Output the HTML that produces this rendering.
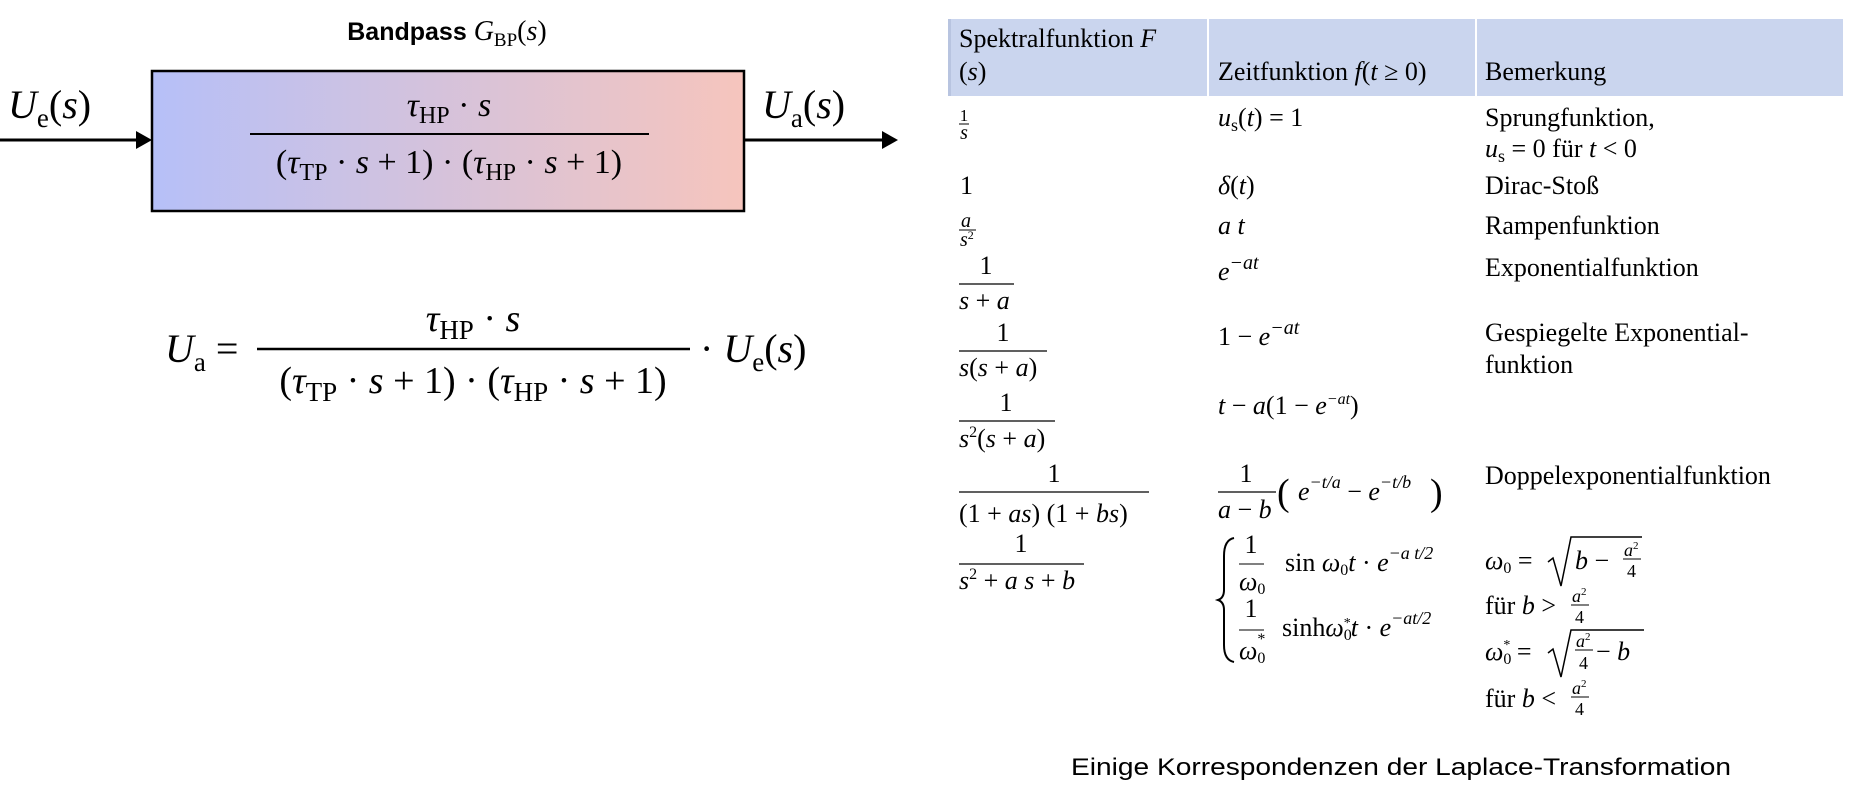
<!DOCTYPE html>
<html><head><meta charset="utf-8"><style>
html,body{margin:0;padding:0;background:#fff}
svg{display:block}
text{font-family:"Liberation Serif",serif;fill:#000}
.i{font-style:italic}
.s{font-family:"Liberation Sans",sans-serif}
</style></head><body>
<svg width="1856" height="788" viewBox="0 0 1856 788" xmlns="http://www.w3.org/2000/svg">
<defs>
<linearGradient id="g" x1="0" x2="1" y1="0" y2="0">
<stop offset="0" stop-color="#b6c0f8"/><stop offset="1" stop-color="#f6c5bd"/>
</linearGradient>
</defs>
<text x="447" y="40" text-anchor="middle" font-size="25"><tspan class="s" font-weight="bold">Bandpass </tspan><tspan class="i" font-size="28">G</tspan><tspan font-size="19" dy="6">BP</tspan><tspan font-size="28" dy="-6">(</tspan><tspan class="i" font-size="28">s</tspan><tspan font-size="28">)</tspan></text>
<rect x="152" y="71" width="592" height="140" fill="url(#g)" stroke="#000" stroke-width="2.5"/>
<line x1="0" y1="140" x2="138" y2="140" stroke="#000" stroke-width="3"/>
<polygon points="136,131 152,140 136,149" fill="#000"/>
<line x1="744" y1="140" x2="884" y2="140" stroke="#000" stroke-width="3"/>
<polygon points="882,131 898,140 882,149" fill="#000"/>
<text x="8" y="118" font-size="40"><tspan class="i">U</tspan><tspan font-size="27" dy="9">e</tspan><tspan dy="-9">(</tspan><tspan class="i">s</tspan>)</text>
<text x="762" y="118" font-size="40"><tspan class="i">U</tspan><tspan font-size="27" dy="9">a</tspan><tspan dy="-9">(</tspan><tspan class="i">s</tspan>)</text>
<text x="449" y="116" text-anchor="middle" font-size="34"><tspan class="i">τ</tspan><tspan font-size="24" dy="7">HP</tspan><tspan dy="-7"> · </tspan><tspan class="i">s</tspan></text>
<line x1="250" y1="134" x2="649" y2="134" stroke="#000" stroke-width="2"/>
<text x="449" y="173" text-anchor="middle" font-size="34">(<tspan class="i">τ</tspan><tspan font-size="24" dy="7">TP</tspan><tspan dy="-7"> · </tspan><tspan class="i">s</tspan> + 1) · (<tspan class="i">τ</tspan><tspan font-size="24" dy="7">HP</tspan><tspan dy="-7"> · </tspan><tspan class="i">s</tspan> + 1)</text>
<text x="165" y="362" font-size="40"><tspan class="i">U</tspan><tspan font-size="27" dy="9">a</tspan><tspan dy="-9"> =</tspan></text>
<text x="473" y="331" text-anchor="middle" font-size="38"><tspan class="i">τ</tspan><tspan font-size="27" dy="8">HP</tspan><tspan dy="-8"> · </tspan><tspan class="i">s</tspan></text>
<line x1="257" y1="349" x2="690" y2="349" stroke="#000" stroke-width="2.5"/>
<text x="473" y="393" text-anchor="middle" font-size="38">(<tspan class="i">τ</tspan><tspan font-size="27" dy="8">TP</tspan><tspan dy="-8"> · </tspan><tspan class="i">s</tspan> + 1) · (<tspan class="i">τ</tspan><tspan font-size="27" dy="8">HP</tspan><tspan dy="-8"> · </tspan><tspan class="i">s</tspan> + 1)</text>
<text x="700" y="362" font-size="40">· <tspan class="i">U</tspan><tspan font-size="27" dy="9">e</tspan><tspan dy="-9">(</tspan><tspan class="i">s</tspan>)</text>

<rect x="948" y="19" width="895" height="77" fill="#cad5ee"/>
<rect x="948" y="19" width="3" height="77" fill="#b8c4e0"/>
<rect x="1207" y="19" width="2" height="77" fill="#fff"/>
<rect x="1475" y="19" width="2" height="77" fill="#fff"/>
<g font-size="26">
<text x="959" y="47">Spektralfunktion <tspan class="i">F</tspan></text>
<text x="959" y="80">(<tspan class="i">s</tspan>)</text>
<text x="1218" y="80">Zeitfunktion <tspan class="i">f</tspan>(<tspan class="i">t</tspan> ≥ 0)</text>
<text x="1485" y="80">Bemerkung</text>

<text x="964" y="121" font-size="17" text-anchor="middle">1</text>
<line x1="959" y1="124" x2="969" y2="124" stroke="#000" stroke-width="1"/>
<text x="964" y="139" font-size="20" text-anchor="middle" class="i">s</text>
<text x="1218" y="126"><tspan class="i">u</tspan><tspan font-size="18" dy="5">s</tspan><tspan dy="-5">(</tspan><tspan class="i">t</tspan>) = 1</text>
<text x="1485" y="126">Sprungfunktion,</text>
<text x="1485" y="157"><tspan class="i">u</tspan><tspan font-size="18" dy="5">s</tspan><tspan dy="-5"> = 0 für </tspan><tspan class="i">t</tspan> &lt; 0</text>
<text x="960" y="194">1</text>
<text x="1218" y="194"><tspan class="i">δ</tspan>(<tspan class="i">t</tspan>)</text>
<text x="1485" y="194">Dirac-Stoß</text>
<text x="961" y="227" font-size="20" class="i">a</text>
<line x1="959" y1="230" x2="976" y2="230" stroke="#000" stroke-width="1"/>
<text x="960" y="246" font-size="20"><tspan class="i">s</tspan><tspan font-size="12" dy="-7">2</tspan></text>
<text x="1218" y="234" class="i">a  t</text>
<text x="1485" y="234">Rampenfunktion</text>
<text x="986" y="274" text-anchor="middle">1</text>
<line x1="959" y1="284" x2="1014" y2="284" stroke="#000" stroke-width="1.2"/>
<text x="959" y="309"><tspan class="i">s</tspan> + <tspan class="i">a</tspan></text>
<text x="1218" y="280"><tspan class="i">e</tspan><tspan font-size="20" dy="-11" class="i">−at</tspan></text>
<text x="1485" y="276">Exponentialfunktion</text>
<text x="1003" y="341" text-anchor="middle">1</text>
<line x1="959" y1="351" x2="1047" y2="351" stroke="#000" stroke-width="1.2"/>
<text x="959" y="376"><tspan class="i">s</tspan>(<tspan class="i">s</tspan> + <tspan class="i">a</tspan>)</text>
<text x="1218" y="345">1 − <tspan class="i">e</tspan><tspan font-size="20" dy="-11" class="i">−at</tspan></text>
<text x="1485" y="341">Gespiegelte Exponential-</text>
<text x="1485" y="373">funktion</text>
<text x="1006" y="411" text-anchor="middle">1</text>
<line x1="959" y1="421" x2="1055" y2="421" stroke="#000" stroke-width="1.2"/>
<text x="959" y="447"><tspan class="i">s</tspan><tspan font-size="16" dy="-10">2</tspan><tspan dy="10">(</tspan><tspan class="i">s</tspan> + <tspan class="i">a</tspan>)</text>
<text x="1218" y="414"><tspan class="i">t</tspan> − <tspan class="i">a</tspan>(1 − <tspan class="i">e</tspan><tspan font-size="16" dy="-10" class="i">−at</tspan><tspan dy="10">)</tspan></text>
<text x="1054" y="482" text-anchor="middle">1</text>
<line x1="959" y1="492" x2="1149" y2="492" stroke="#000" stroke-width="1.2"/>
<text x="959" y="522">(1 + <tspan class="i">as</tspan>)  (1 + <tspan class="i">bs</tspan>)</text>
<text x="1246" y="482" text-anchor="middle">1</text>
<line x1="1218" y1="492" x2="1276" y2="492" stroke="#000" stroke-width="1.2"/>
<text x="1218" y="518"><tspan class="i">a</tspan> − <tspan class="i">b</tspan></text>
<text x="1277" y="505" font-size="38">(</text>
<text x="1298" y="500"><tspan class="i">e</tspan><tspan font-size="18" dy="-12" class="i">−t/a</tspan><tspan dy="12"> − </tspan><tspan class="i">e</tspan><tspan font-size="18" dy="-12" class="i">−t/b</tspan></text>
<text x="1430" y="505" font-size="38">)</text>
<text x="1485" y="484">Doppelexponentialfunktion</text>
<text x="1021" y="552" text-anchor="middle">1</text>
<line x1="959" y1="564" x2="1084" y2="564" stroke="#000" stroke-width="1.2"/>
<text x="959" y="589"><tspan class="i">s</tspan><tspan font-size="16" dy="-10">2</tspan><tspan dy="10"> + </tspan><tspan class="i">a s</tspan> + <tspan class="i">b</tspan></text>
<path d="M1234,538 Q1224,540 1224,556 L1224,590 Q1224,598 1218,600 Q1224,602 1224,610 L1224,645 Q1224,660 1234,662" fill="none" stroke="#000" stroke-width="2"/>
<text x="1251" y="553" text-anchor="middle">1</text>
<line x1="1239" y1="564" x2="1264" y2="564" stroke="#000" stroke-width="1"/>
<text x="1239" y="590"><tspan class="i">ω</tspan><tspan font-size="16" dy="4">0</tspan></text>
<text x="1285" y="571">sin <tspan class="i">ω</tspan><tspan font-size="16" dy="4">0</tspan><tspan dy="-4" class="i">t</tspan> · <tspan class="i">e</tspan><tspan font-size="18" dy="-12" class="i">−a t/2</tspan></text>
<text x="1251" y="617" text-anchor="middle">1</text>
<line x1="1239" y1="630" x2="1264" y2="630" stroke="#000" stroke-width="1"/>
<text x="1239" y="659"><tspan class="i">ω</tspan><tspan font-size="16" dy="4">0</tspan><tspan font-size="16" dx="-8" dy="-19">*</tspan></text>
<text x="1282" y="636">sinh<tspan class="i">ω</tspan><tspan font-size="16" dy="4">0</tspan><tspan font-size="14" dx="-8" dy="-13">*</tspan><tspan dy="9" class="i">t</tspan> · <tspan class="i">e</tspan><tspan font-size="18" dy="-12" class="i">−at/2</tspan></text>
<text x="1485" y="569"><tspan class="i">ω</tspan><tspan font-size="16" dy="4">0</tspan><tspan dy="-4"> = </tspan></text>
<path d="M1548,562 L1553,558 L1561,586 L1571,537 L1642,537" fill="none" stroke="#000" stroke-width="1.5"/>
<text x="1575" y="569"><tspan class="i">b</tspan> − </text>
<text x="1624" y="556" font-size="18"><tspan class="i">a</tspan><tspan font-size="11" dy="-7">2</tspan></text>
<line x1="1623" y1="559" x2="1641" y2="559" stroke="#000" stroke-width="1"/>
<text x="1627" y="577" font-size="18">4</text>
<text x="1485" y="614">für <tspan class="i">b</tspan> &gt;</text>
<text x="1572" y="602" font-size="18"><tspan class="i">a</tspan><tspan font-size="11" dy="-7">2</tspan></text>
<line x1="1571" y1="605" x2="1589" y2="605" stroke="#000" stroke-width="1"/>
<text x="1575" y="623" font-size="18">4</text>
<text x="1485" y="660"><tspan class="i">ω</tspan><tspan font-size="16" dy="4">0</tspan><tspan font-size="14" dx="-8" dy="-15">*</tspan><tspan dy="11"> = </tspan></text>
<path d="M1548,653 L1553,649 L1561,677 L1571,630 L1644,630" fill="none" stroke="#000" stroke-width="1.5"/>
<text x="1576" y="647" font-size="18"><tspan class="i">a</tspan><tspan font-size="11" dy="-7">2</tspan></text>
<line x1="1575" y1="650" x2="1593" y2="650" stroke="#000" stroke-width="1"/>
<text x="1579" y="669" font-size="18">4</text>
<text x="1596" y="660"> − <tspan class="i">b</tspan></text>
<text x="1485" y="707">für <tspan class="i">b</tspan> &lt;</text>
<text x="1572" y="694" font-size="18"><tspan class="i">a</tspan><tspan font-size="11" dy="-7">2</tspan></text>
<line x1="1571" y1="697" x2="1589" y2="697" stroke="#000" stroke-width="1"/>
<text x="1575" y="715" font-size="18">4</text>
</g>
<text x="1071" y="775" class="s" font-size="24" textLength="660" lengthAdjust="spacingAndGlyphs">Einige Korrespondenzen der Laplace-Transformation</text>
</svg>
</body></html>
